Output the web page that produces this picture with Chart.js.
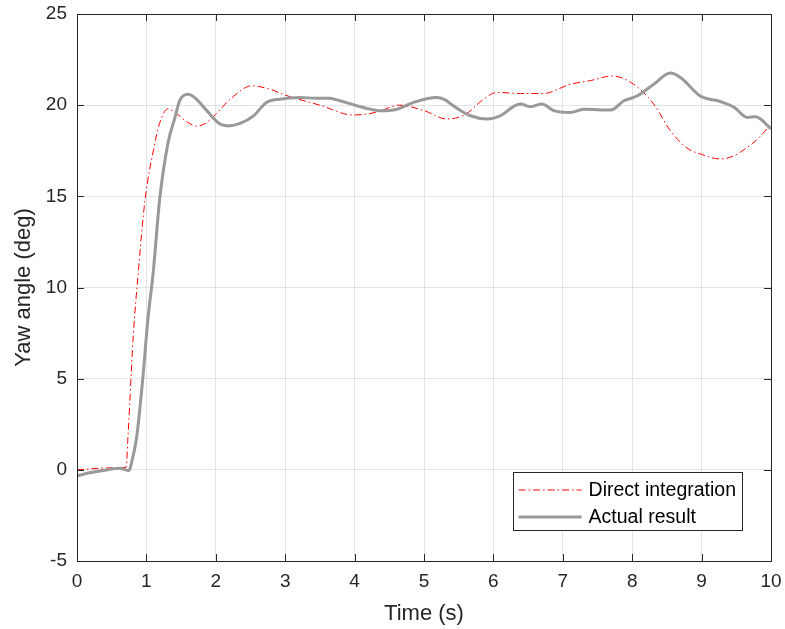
<!DOCTYPE html>
<html>
<head>
<meta charset="utf-8">
<title>Yaw angle</title>
<script src="https://cdn.jsdelivr.net/npm/chart.js@4.4.1/dist/chart.umd.min.js"></script>
<style>
  html, body { margin: 0; padding: 0; background: #ffffff; }
  #wrap { width: 785px; height: 629px; }
</style>
</head>
<body>
<div id="wrap"><canvas id="yawChart" width="785" height="629"></canvas></div>
<script>
// yaw from direct integration of the rate signal
const directT = [0, 0.3, 0.6, 0.71, 0.73, 0.76, 0.81, 0.88, 0.98, 1.1, 1.19, 1.31, 1.41, 1.6, 1.72, 1.85,
	2.0, 2.2, 2.52, 2.8, 3.0, 3.5, 3.98, 4.3, 4.65, 5.0, 5.33, 5.6, 5.85, 6.05, 6.39, 6.72, 7.11, 7.4,
	7.71, 8.02, 8.31, 8.55, 8.79, 9.0, 9.27, 9.45, 9.66, 9.85, 10];
const directYaw = [0, 0.08, 0.12, 0.15, 1.5, 3.65, 7.3, 10.7, 14.8, 17.5, 19.0, 19.8, 19.6, 19.05, 18.85, 19.0,
	19.5, 20.3, 21.06, 20.85, 20.55, 20.0, 19.46, 19.6, 20.0, 19.7, 19.24, 19.5, 20.3, 20.7, 20.64, 20.64, 21.15, 21.35,
	21.6, 21.15, 20.06, 18.6, 17.65, 17.3, 17.05, 17.2, 17.69, 18.3, 19.0];

// measured yaw
const actualT = [0, 0.2, 0.37, 0.61, 0.75, 0.78, 0.86, 0.95, 1.02, 1.1, 1.19, 1.31, 1.41, 1.48, 1.6, 1.7, 1.87,
	2.05, 2.2, 2.35, 2.54, 2.73, 2.92, 3.21, 3.45, 3.64, 3.79, 4.03, 4.2, 4.37, 4.61, 4.85, 5.18, 5.3, 5.42,
	5.67, 5.91, 6.1, 6.3, 6.39, 6.53, 6.7, 6.87, 7.11, 7.3, 7.69, 7.88, 8.07, 8.31, 8.55, 8.7, 8.98, 9.27,
	9.47, 9.66, 9.78, 10];
const actualYaw = [-0.33, -0.15, -0.04, 0.09, -0.04, 0.3, 1.8, 5.1, 8.2, 10.9, 14.8, 17.9, 19.3, 20.25, 20.6, 20.4, 19.7,
	19.0, 18.87, 19.0, 19.4, 20.15, 20.33, 20.42, 20.38, 20.38, 20.24, 19.97, 19.8, 19.69, 19.78, 20.15, 20.42, 20.3, 19.97,
	19.42, 19.24, 19.42, 19.95, 20.06, 19.91, 20.06, 19.7, 19.6, 19.78, 19.73, 20.24, 20.5, 21.15, 21.76, 21.5, 20.5, 20.2,
	19.88, 19.33, 19.36, 18.7];

const seriesNames = ["Direct integration", "Actual result"];
const xTicks = [0, 1, 2, 3, 4, 5, 6, 7, 8, 9, 10];
const yTicks = [-5, 0, 5, 10, 15, 20, 25];

const ink = "#262626";
const fontFamily = "'Liberation Sans', Arial, Helvetica, sans-serif";

const toPoints = (ts, ys) => ts.map((t, i) => ({ x: t, y: ys[i] }));

// box outline plus inward tick marks on all four sides
const axesBox = {
	id: "axesBox",
	afterDraw(chart) {
		const { ctx, chartArea: a, scales } = chart;
		const len = 7;
		ctx.save();
		ctx.strokeStyle = ink;
		ctx.lineWidth = 1;
		ctx.beginPath();
		xTicks.forEach((v) => {
			const px = Math.round(scales.x.getPixelForValue(v)) + 0.5;
			ctx.moveTo(px, a.bottom);
			ctx.lineTo(px, a.bottom - len);
			ctx.moveTo(px, a.top);
			ctx.lineTo(px, a.top + len);
		});
		yTicks.forEach((v) => {
			const py = Math.round(scales.y.getPixelForValue(v)) + 0.5;
			ctx.moveTo(a.left, py);
			ctx.lineTo(a.left + len, py);
			ctx.moveTo(a.right, py);
			ctx.lineTo(a.right - len, py);
		});
		ctx.stroke();
		ctx.strokeRect(Math.round(a.left) + 0.5, Math.round(a.top) + 0.5,
			Math.round(a.right - a.left), Math.round(a.bottom - a.top));
		ctx.restore();
	},
};

// legend box in the lower right corner of the axes
const boxLegend = {
	id: "boxLegend",
	afterDraw(chart) {
		const { ctx, chartArea: a } = chart;
		const sets = chart.data.datasets;
		ctx.save();
		ctx.font = "19.5px " + fontFamily;
		const textW = Math.max(...sets.map((d) => ctx.measureText(d.label).width));
		const w = 6 + 63 + 7 + textW + 6;
		const h = 58;
		const right = Math.round(a.right) - 29;
		const bottom = Math.round(a.bottom) - 31;
		const left = right - w;
		const top = bottom - h;
		ctx.fillStyle = "#ffffff";
		ctx.fillRect(left, top, w, h);
		ctx.strokeStyle = ink;
		ctx.lineWidth = 1;
		ctx.strokeRect(Math.round(left) + 0.5, top + 0.5, Math.round(w), h);
		sets.forEach((d, i) => {
			const cy = top + 18 + i * 27;
			ctx.beginPath();
			ctx.strokeStyle = d.borderColor;
			ctx.lineWidth = d.borderWidth;
			ctx.setLineDash(d.borderDash || []);
			ctx.moveTo(left + 6, cy);
			ctx.lineTo(left + 69, cy);
			ctx.stroke();
			ctx.setLineDash([]);
			ctx.fillStyle = "#000000";
			ctx.textBaseline = "middle";
			ctx.fillText(d.label, left + 76, cy + 1);
		});
		ctx.restore();
	},
};

const config = {
	type: "line",
	data: {
		datasets: [
			{
				label: seriesNames[0],
				data: toPoints(directT, directYaw),
				borderColor: "#ff0000",
				borderWidth: 1,
				borderDash: [7, 3, 1.5, 3],
				pointRadius: 0,
				cubicInterpolationMode: "monotone",
				order: 2,
			},
			{
				label: seriesNames[1],
				data: toPoints(actualT, actualYaw),
				borderColor: "#999999",
				borderWidth: 3,
				pointRadius: 0,
				cubicInterpolationMode: "monotone",
				order: 1,
			},
		],
	},
	options: {
		responsive: false,
		animation: false,
		layout: { padding: { top: 14, right: 14, left: 0, bottom: 0 } },
		plugins: {
			legend: { display: false },
			tooltip: { enabled: false },
		},
		scales: {
			x: {
				type: "linear",
				min: 0,
				max: 10,
				afterFit: (s) => {
					s.height = 68;
					s.paddingLeft = 0;
					s.paddingRight = 0;
				},
				afterBuildTicks: (s) => { s.ticks = xTicks.map((v) => ({ value: v })); },
				grid: { color: "#e3e3e3", drawTicks: false },
				border: { display: false },
				ticks: { color: ink, padding: 9, font: { family: fontFamily, size: 19 } },
				title: {
					display: true,
					text: "Time (s)",
					color: ink,
					padding: { top: 0, bottom: 2 },
					font: { family: fontFamily, size: 22 },
				},
			},
			y: {
				type: "linear",
				min: -5,
				max: 25,
				afterFit: (s) => {
					s.width = 77;
					s.paddingTop = 0;
					s.paddingBottom = 0;
				},
				afterBuildTicks: (s) => { s.ticks = yTicks.map((v) => ({ value: v })); },
				grid: { color: "#e3e3e3", drawTicks: false },
				border: { display: false },
				ticks: { color: ink, padding: 10, font: { family: fontFamily, size: 19 } },
				title: {
					display: true,
					text: "Yaw angle (deg)",
					color: ink,
					padding: { top: 11, bottom: 0 },
					font: { family: fontFamily, size: 22 },
				},
			},
		},
	},
	plugins: [axesBox, boxLegend],
};

new Chart(document.getElementById("yawChart"), config);
</script>
</body>
</html>
